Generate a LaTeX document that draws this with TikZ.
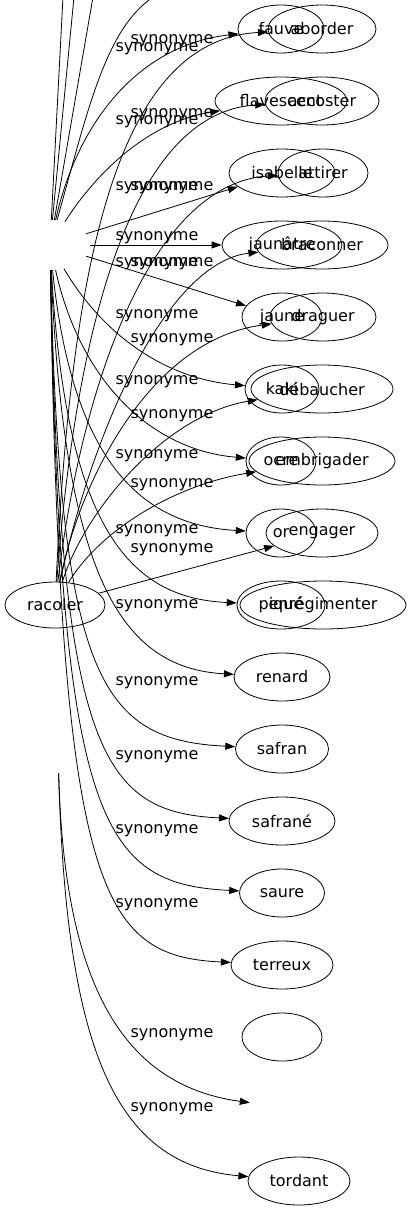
\documentclass[tikz,border=0pt]{standalone}
\usepackage{fontspec}
\setmainfont{DejaVu Sans}
\usetikzlibrary{shapes.geometric, arrows.meta}

\begin{document}
\begin{tikzpicture}[x=1pt, y=-1pt,
		word/.style={ellipse, draw, line width=0.8pt, inner sep=0pt, minimum height=48pt, font=\fontsize{16}{19}\selectfont},
		hidden/.style={ellipse, inner sep=0pt, minimum width=80pt, minimum height=50pt},
		syn/.style={anchor=base, inner sep=0pt, font=\fontsize{16}{19}\selectfont},
		edge/.style={-{Triangle[length=10pt, width=7pt]}, line width=0.8pt}]
		\def\xa{157};
		\def\xb{172};
		
		\useasboundingbox (0,0) rectangle (420,1211);
		\clip (0,0) rectangle (420,1211);
		
		\node [word, minimum width=86pt] (fauve) at (281,29) {fauve};
		\node [word, minimum width=108pt] (aborder) at (322,29) {aborder};
		\node [word, minimum width=132pt] (flavescent) at (281,101) {flavescent};
		\node [word, minimum width=114pt] (accoster) at (322,101) {accoster};
		\node [word, minimum width=106pt] (isabelle) at (282,173) {isabelle};
		\node [word, minimum width=90pt] (attirer) at (323,173) {attirer};
		\node [word, minimum width=120pt] (jaunatre) at (282,245) {jaunâtre};
		\node [word, minimum width=132pt] (braconner) at (322,245) {braconner};
		\node [word, minimum width=80pt] (jaune) at (282,317) {jaune};
		\node [word, minimum width=106pt] (draguer) at (323,317) {draguer};
		\node [word, minimum width=74pt] (kaki) at (282,389) {kaki};
		\node [word, minimum width=142pt] (debaucher) at (322,389) {débaucher};
		\node [word, minimum width=70pt] (ocre) at (281,461) {ocre};
		\node [word, minimum width=146pt] (embrigader) at (322,461) {embrigader};
		\node [word, minimum width=70pt] (or) at (281,533) {or};
		\node [word, minimum width=112pt] (engager) at (322,533) {engager};
		\node [word, minimum width=88pt] (pique) at (281,605) {piqué};
		\node [word, minimum width=166pt] (enregimenter) at (323,605) {enrégimenter};
		\node [word, minimum width=96pt] (renard) at (282,677) {renard};
		\node [word, minimum width=93pt] (safran) at (282,749) {safran};
		\node [word, minimum width=106pt] (safrane) at (282,821) {safrané};
		\node [word, minimum width=85pt] (saure) at (282,893) {saure};
		\node [word, minimum width=102pt] (terreux) at (282,965) {terreux};
		\node [word, minimum width=80pt] (empty) at (282,1037) {};
		\node [word, minimum width=102pt] (tordant) at (299,1181) {tordant};
		\node [word, minimum width=100pt, minimum height=46pt] (racoler) at (55,605) {racoler};
		
		\node [hidden] (hub) at (50,245) {};
		\node [hidden] (hubb) at (58,748) {};
		\node [hidden, minimum height=48pt] (blank) at (289,1108) {};
		\coordinate (up1) at (63,-3);
		\coordinate (up2) at (74,-3);
		\coordinate (up3) at (93,-3);
		\coordinate (up4) at (153,-3);
		
		\draw [line width=0.8pt] (hub) -- (up1);
		\draw [line width=0.8pt] (hub) -- (up2);
		\draw [line width=0.8pt] (hub) -- (up3);
		\draw [line width=0.8pt] (hub) .. controls (88,110) and (105,30) .. (up4);
		
		\draw [edge] (hub) .. controls (78,120) and (140,45) .. (fauve);
		\draw [edge] (hub) .. controls (98,170) and (150,122) .. (flavescent);
		\draw [edge] (hub) -- (isabelle);
		\draw [edge] (hub) -- (jaunatre);
		\draw [edge] (hub) -- (jaune);
		\draw [edge] (hub) .. controls (100,330) and (160,378) .. (kaki);
		\draw [edge] (hub) .. controls (80,380) and (150,450) .. (ocre);
		\draw [edge] (hub) .. controls (72,460) and (140,525) .. (or);
		\draw [edge] (hub) .. controls (66,530) and (130,598) .. (pique);
		\draw [edge] (hub) .. controls (64,575) and (120,668) .. (renard);
		\draw [edge] (hub) .. controls (60,679) and (100,740) .. (safran);
		\draw [edge] (hub) .. controls (60,751) and (100,812) .. (safrane);
		\draw [edge] (hub) .. controls (60,823) and (100,884) .. (saure);
		\draw [edge] (hub) .. controls (60,895) and (100,956) .. (terreux);
		
		\draw [edge] (racoler) .. controls (72,250) and (120,40) .. (aborder);
		\draw [edge] (racoler) .. controls (78,300) and (140,112) .. (accoster);
		\draw [edge] (racoler) .. controls (85,360) and (160,182) .. (attirer);
		\draw [edge] (racoler) .. controls (95,420) and (170,262) .. (braconner);
		\draw [edge] (racoler) .. controls (80,480) and (150,340) .. (draguer);
		\draw [edge] (racoler) .. controls (85,510) and (165,415) .. (debaucher);
		\draw [edge] (racoler) .. controls (100,530) and (175,485) .. (embrigader);
		\draw [edge] (racoler) -- (engager);
		
		\draw [edge] (hubb) .. controls (64,980) and (120,1085) .. (blank);
		\draw [edge] (hubb) .. controls (66,1050) and (115,1165) .. (tordant);
		
		\node [syn] (sfauve) at (\xa,51) {synonyme};
		\node [syn] (sflavescent) at (\xa,124) {synonyme};
		\node [syn] (sisabelle) at (\xa,190) {synonyme};
		\node [syn] (sjaunatre) at (\xa,240) {synonyme};
		\node [syn] (sjaune) at (\xa,266) {synonyme};
		\node [syn] (skaki) at (\xa,318) {synonyme};
		\node [syn] (socre) at (\xa,384) {synonyme};
		\node [syn] (sor) at (\xa,458) {synonyme};
		\node [syn] (spique) at (\xa,533) {synonyme};
		\node [syn] (srenard) at (\xa,608) {synonyme};
		\node [syn] (ssafran) at (\xa,685) {synonyme};
		\node [syn] (ssafrane) at (\xa,759) {synonyme};
		\node [syn] (ssaure) at (\xa,833) {synonyme};
		\node [syn] (sterreux) at (\xa,907) {synonyme};
		
		\node [syn] (saborder) at (\xb,43) {synonyme};
		\node [syn] (saccoster) at (\xb,117) {synonyme};
		\node [syn] (sattirer) at (\xb,190) {synonyme};
		\node [syn] (sbraconner) at (\xb,266) {synonyme};
		\node [syn] (sdraguer) at (\xb,342) {synonyme};
		\node [syn] (sdebaucher) at (\xb,418) {synonyme};
		\node [syn] (sembrigader) at (\xb,487) {synonyme};
		\node [syn] (sengager) at (\xb,552) {synonyme};
		\node [syn] (sblank) at (\xb,1037) {synonyme};
		\node [syn] (stordant) at (\xb,1111) {synonyme};
	\end{tikzpicture}
\end{document}
